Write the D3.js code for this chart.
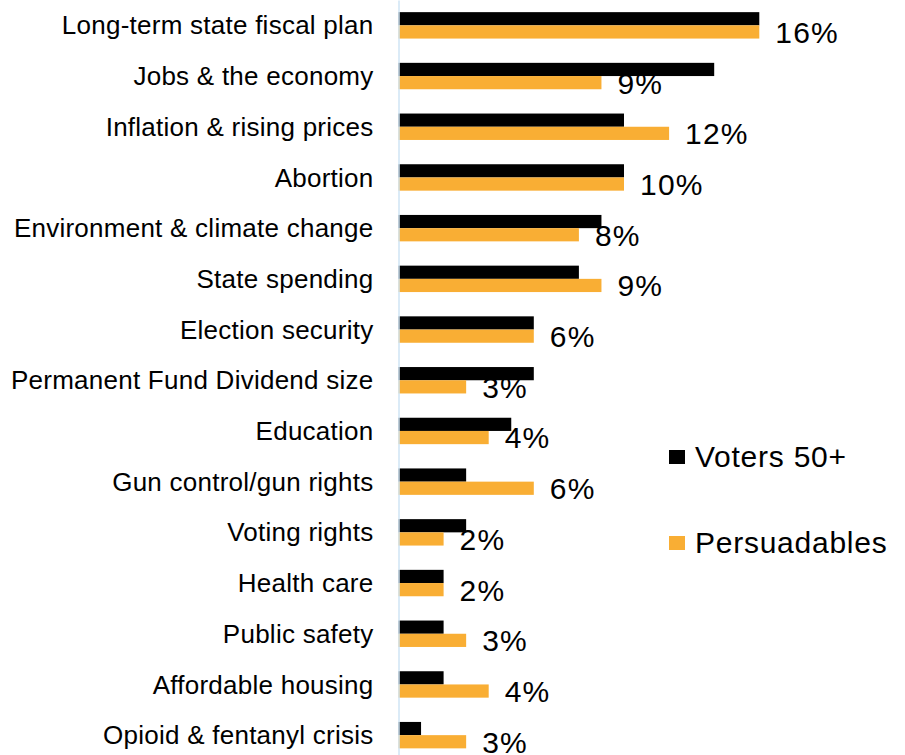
<!DOCTYPE html>
<html>
<head>
<meta charset="utf-8">
<script src="https://cdn.jsdelivr.net/npm/d3@7"></script>
<style>
  body { margin: 0; background: #fff; }
  svg { display: block; font-family: Arial, "Liberation Sans", sans-serif; }
</style>
</head>
<body>
<div id="chart"></div>
<script>
const categories = [
    "Long-term state fiscal plan",
    "Jobs & the economy",
    "Inflation & rising prices",
    "Abortion",
    "Environment & climate change",
    "State spending",
    "Election security",
    "Permanent Fund Dividend size",
    "Education",
    "Gun control/gun rights",
    "Voting rights",
    "Health care",
    "Public safety",
    "Affordable housing",
    "Opioid & fentanyl crisis"
];
const seriesNames = ["Voters 50+", "Persuadables"];
const voters50 = [16, 14, 10, 10, 9, 8, 6, 6, 5, 3, 3, 2, 2, 2, 1];
const persuadables = [16, 9, 12, 10, 8, 9, 6, 3, 4, 6, 2, 2, 3, 4, 3];

const width = 905, height = 755;
const margin = { top: 0, left: 398.5 };
const innerWidth = 360.8;
const innerHeight = 760.5;
const colors = ["#000000", "#F9AE34"];

const rows = categories.map((c, i) => ({ cat: c, values: [voters50[i], persuadables[i]] }));

const svg = d3.select("#chart")
    .append("svg")
    .attr("width", width)
    .attr("height", height)
    .attr("viewBox", `0 0 ${width} ${height}`);

const inner = svg.append("g")
    .attr("transform", `translate(${margin.left},${margin.top})`);

// scales
const xScale = d3.scaleLinear().domain([0, 16]).range([0, innerWidth]);
const yScale = d3.scaleBand()
    .domain(categories)
    .range([0, innerHeight])
    .paddingInner(0.479)
    .paddingOuter(0.2395);
const ySub = d3.scaleBand()
    .domain(seriesNames)
    .range([0, yScale.bandwidth()]);

// bars
const groups = inner.selectAll("g.row")
    .data(rows)
    .join("g")
        .attr("class", "row")
        .attr("transform", d => `translate(0,${yScale(d.cat)})`);

groups.selectAll("rect")
    .data(d => d.values.map((v, k) => ({ name: seriesNames[k], value: v, k })))
    .join("rect")
        .attr("x", 0)
        .attr("y", d => ySub(d.name))
        .attr("width", d => xScale(d.value))
        .attr("height", ySub.bandwidth())
        .attr("fill", d => colors[d.k]);

// value labels (Persuadables only)
groups.append("text")
    .attr("x", d => xScale(d.values[1]) + 16)
    .attr("y", ySub("Persuadables") + ySub.bandwidth() / 2)
    .attr("dy", "0.365em")
    .attr("font-size", 30)
    .attr("letter-spacing", 1.2)
    .attr("fill", "#000")
    .text(d => d.values[1] + "%");

// left axis
const leftAxis = d3.axisLeft(yScale).tickSize(0).tickPadding(25);
const yAxis = inner.append("g").attr("class", "y-axis").call(leftAxis);
yAxis.select(".domain").attr("stroke", "#cfe4f4").attr("stroke-width", 1.5);
yAxis.selectAll("text")
    .attr("font-size", 26)
    .attr("letter-spacing", 0.25)
    .attr("font-family", "Arial, 'Liberation Sans', sans-serif")
    .attr("fill", "#000")
    .attr("dy", "0.35em");

// legend
const legend = svg.append("g").attr("transform", "translate(669,450)");
seriesNames.forEach((name, i) => {
    const g = legend.append("g").attr("transform", `translate(0,${i * 86})`);
    g.append("rect").attr("width", 16).attr("height", 14).attr("fill", colors[i]);
    g.append("text")
        .attr("x", 26)
        .attr("y", 16.7)
        .attr("font-size", 30)
        .attr("letter-spacing", 0.75)
        .attr("fill", "#000")
        .text(name);
});
</script>
</body>
</html>
